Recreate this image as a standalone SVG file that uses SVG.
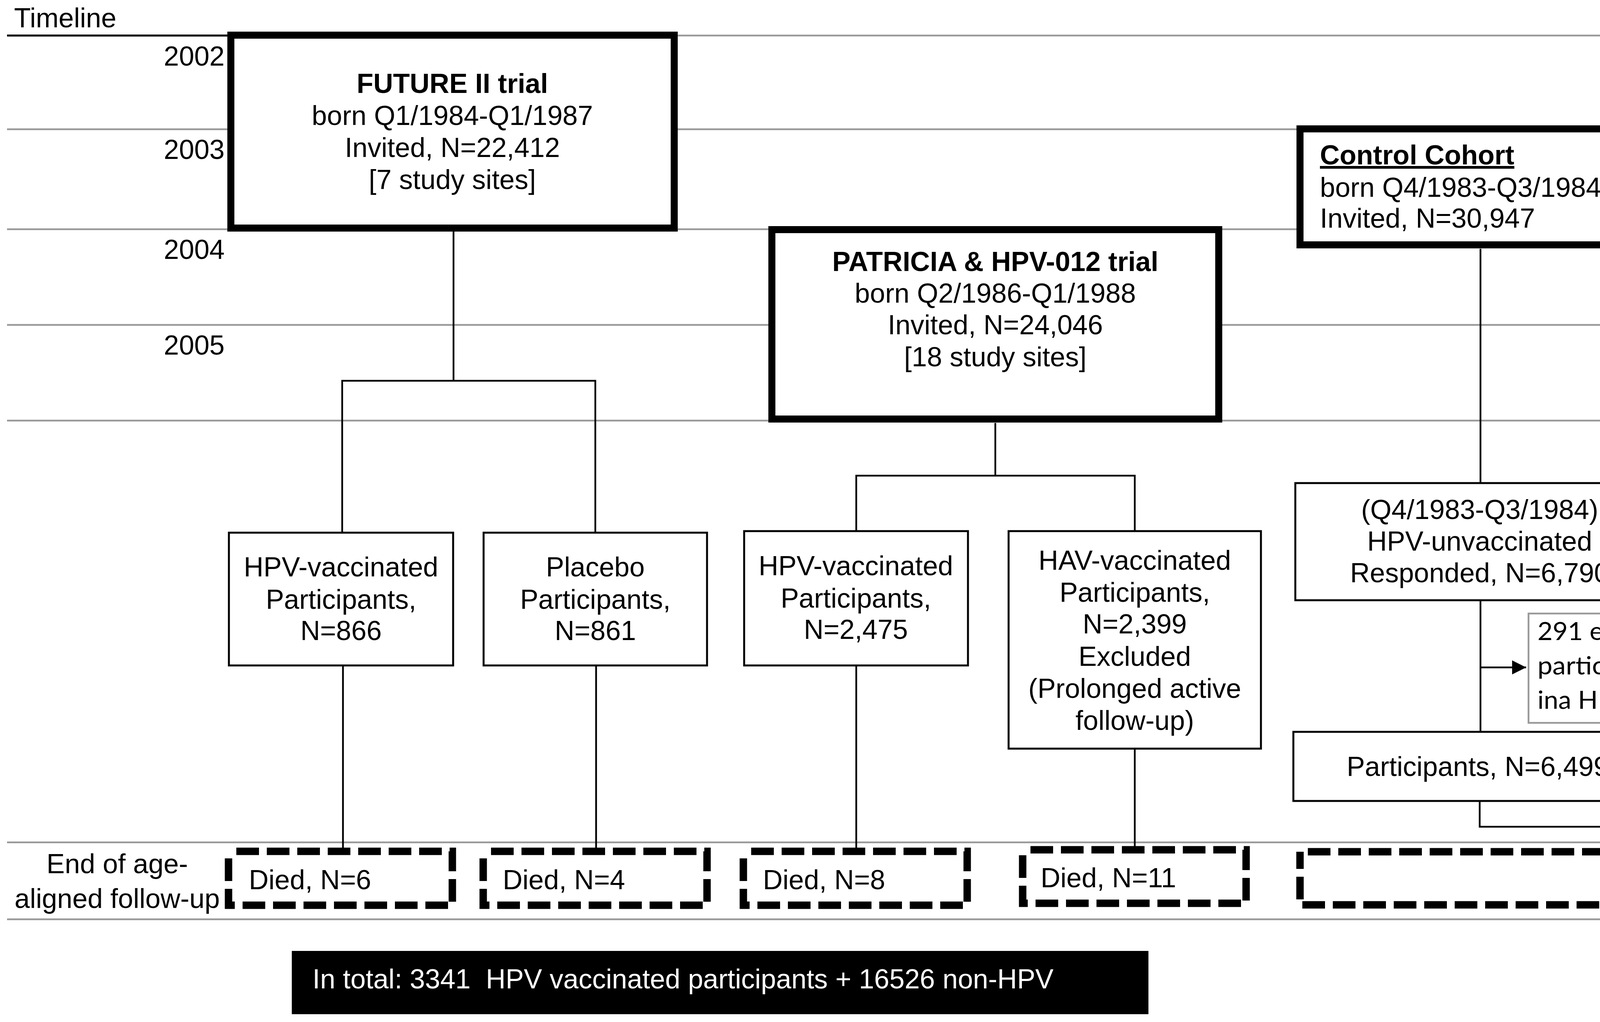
<svg xmlns="http://www.w3.org/2000/svg" width="5846" height="2617" viewBox="0 0 5846 2617">
<defs>
<style>
text{font-family:"Liberation Sans",Arial,sans-serif;font-size:70px;fill:#000}
.c{text-anchor:middle}
.r{text-anchor:end}
.b{font-weight:bold}
.u{text-decoration:underline}
.ex{font-family:Lato,"Liberation Sans",sans-serif;font-size:64px}
.grid{stroke:#999;stroke-width:4.5;fill:none}
.thick{fill:#fff;stroke:#000;stroke-width:18}
.thin{fill:#fff;stroke:#000;stroke-width:5}
.gbox{fill:#fff;stroke:#999;stroke-width:4.5}
.dash{fill:#fff;stroke:#000;stroke-width:19;stroke-dasharray:58 20;stroke-dashoffset:58}
.conn{fill:none;stroke:#000;stroke-width:4.5}
</style>
<marker id="arr" markerUnits="userSpaceOnUse" markerWidth="36" markerHeight="36" refX="36" refY="18" orient="auto">
<path d="M0,0L36,18L0,36z" fill="#000"/>
</marker>
</defs>
<rect width="5846" height="2617" fill="#fff"/>
<g id="timeline">
<path class="grid" d="M18,91H5826M18,331H5826M18,587H5826M18,832H5826M18,1077H5826M18,2157H5826M18,2354H5826"/>
<path d="M18,91H591" stroke="#000" stroke-width="5"/>
<text x="36" y="70">Timeline</text>
<text class="r" x="575" y="168">2002</text>
<text class="r" x="575" y="407">2003</text>
<text class="r" x="575" y="663">2004</text>
<text class="r" x="575" y="908">2005</text>
<text class="c" x="300" y="2236">End of age-</text>
<text class="c" x="300" y="2325">aligned follow-up</text>
</g>
<g id="connectors">
<path class="conn" d="M1161,593V975M876,1364V975H1524V1364"/>
<path class="conn" d="M2548,1083V1218M2192,1360V1218H2905V1360"/>
<path class="conn" d="M3790,637V1237M4795,1142V1237"/>
<path class="conn" d="M3790,1537V1874M4793,1537V1874"/>
<path class="conn" d="M3790,1709H3907" marker-end="url(#arr)"/>
<path class="conn" d="M4793,1709H4904" marker-end="url(#arr)"/>
<path class="conn" d="M3788,2051V2117H4795V2051M4295,2117V2181"/>
<path class="conn" d="M878,1704V2180M1526,1704V2180M2192,1704V2180M2905,1917V2176"/>
</g>
<g id="future">
<rect class="thick" x="591" y="90" width="1135" height="494"/>
<text class="c b" x="1158" y="238">FUTURE II trial</text>
<text class="c" x="1158" y="320">born Q1/1984-Q1/1987</text>
<text class="c" x="1158" y="402">Invited, N=22,412</text>
<text class="c" x="1158" y="484">[7 study sites]</text>
</g>
<g id="patricia">
<rect class="thick" x="1976" y="588" width="1144" height="485"/>
<text class="c b" x="2548" y="694">PATRICIA &amp; HPV-012 trial</text>
<text class="c" x="2548" y="775">born Q2/1986-Q1/1988</text>
<text class="c" x="2548" y="856">Invited, N=24,046</text>
<text class="c" x="2548" y="938">[18 study sites]</text>
</g>
<g id="control1">
<rect class="thick" x="3328" y="330" width="905" height="297"/>
<text class="b u" x="3379" y="421">Control Cohort</text>
<text x="3379" y="504">born Q4/1983-Q3/1984</text>
<text x="3379" y="583">Invited, N=30,947</text>
</g>
<g id="control2">
<rect class="thick" x="4337" y="824" width="906" height="308"/>
<text class="b u" x="4389" y="915">Control Cohort</text>
<text x="4389" y="998">born Q4/1984-Q3/1986</text>
<text x="4389" y="1077">Invited, N=58,996</text>
</g>
<g id="hpv1">
<rect class="thin" x="586" y="1364" width="574" height="340"/>
<text class="c" x="873" y="1476">HPV-vaccinated</text>
<text class="c" x="873" y="1559">Participants,</text>
<text class="c" x="873" y="1639">N=866</text>
</g>
<g id="placebo">
<rect class="thin" x="1238" y="1364" width="572" height="340"/>
<text class="c" x="1524" y="1476">Placebo</text>
<text class="c" x="1524" y="1559">Participants,</text>
<text class="c" x="1524" y="1639">N=861</text>
</g>
<g id="hpv2">
<rect class="thin" x="1905" y="1360" width="573" height="344"/>
<text class="c" x="2191" y="1473">HPV-vaccinated</text>
<text class="c" x="2191" y="1556">Participants,</text>
<text class="c" x="2191" y="1636">N=2,475</text>
</g>
<g id="hav">
<rect class="thin" x="2582" y="1360" width="646" height="557"/>
<text class="c" x="2905" y="1459">HAV-vaccinated</text>
<text class="c" x="2905" y="1541">Participants,</text>
<text class="c" x="2905" y="1622">N=2,399</text>
<text class="c" x="2905" y="1705">Excluded</text>
<text class="c" x="2905" y="1787">(Prolonged active</text>
<text class="c" x="2905" y="1869">follow-up)</text>
</g>
<g id="responded1">
<rect class="thin" x="3316" y="1237" width="944" height="300"/>
<text class="c" x="3788" y="1329">(Q4/1983-Q3/1984)</text>
<text class="c" x="3788" y="1410">HPV-unvaccinated</text>
<text class="c" x="3788" y="1491">Responded, N=6,790</text>
</g>
<g id="responded2">
<rect class="thin" x="4321" y="1237" width="944" height="300"/>
<text class="c" x="4793" y="1329">(Q4/1984-Q3/1986)</text>
<text class="c" x="4793" y="1410">HPV-unvaccinated</text>
<text class="c" x="4793" y="1491">Responded, N=10,220</text>
</g>
<g id="excluded1">
<rect class="gbox" x="3913" y="1571" width="798" height="280"/>
<text class="ex" x="3936" y="1639" textLength="753" lengthAdjust="spacingAndGlyphs">291 excluded (declined to</text>
<text class="ex" x="3936" y="1727" textLength="693" lengthAdjust="spacingAndGlyphs">participate/particpated</text>
<text class="ex" x="3936" y="1815" textLength="733" lengthAdjust="spacingAndGlyphs">ina HPV vaccination trial)</text>
</g>
<g id="excluded2">
<rect class="gbox" x="4909" y="1571" width="803" height="280"/>
<text class="ex" x="4930" y="1639" textLength="721" lengthAdjust="spacingAndGlyphs">1054 excluded (declined</text>
<text class="ex" x="4930" y="1727" textLength="762" lengthAdjust="spacingAndGlyphs">to participate/particpated</text>
<text class="ex" x="4930" y="1815" textLength="737" lengthAdjust="spacingAndGlyphs">ina HPV vaccination trial)</text>
</g>
<g id="participants1">
<rect class="thin" x="3311" y="1874" width="944" height="177"/>
<text class="c" x="3783" y="1987">Participants, N=6,499</text>
</g>
<g id="participants2">
<rect class="thin" x="4321" y="1874" width="944" height="177"/>
<text class="c" x="4793" y="1987">Participants, N=9,166</text>
</g>
<g id="died1">
<rect class="dash" x="585" y="2180" width="573" height="138"/>
<text x="637" y="2277">Died, N=6</text>
</g>
<g id="died2">
<rect class="dash" x="1237" y="2180" width="573" height="138"/>
<text x="1287" y="2277">Died, N=4</text>
</g>
<g id="died3">
<rect class="dash" x="1903" y="2180" width="573" height="138"/>
<text x="1953" y="2277">Died, N=8</text>
</g>
<g id="died4">
<rect class="dash" x="2618" y="2176" width="572" height="137"/>
<text x="2664" y="2272">Died, N=11</text>
</g>
<g id="died73">
<rect class="dash" x="3328" y="2181" width="1924" height="136"/>
<text class="c" x="4290" y="2277">Died, N=73</text>
</g>
<g id="total">
<rect x="747" y="2435" width="2193" height="162" fill="#000"/>
<text x="800" y="2531" fill="#fff" style="fill:#fff" xml:space="preserve">In total: 3341  HPV vaccinated participants + 16526 non-HPV</text>
</g>
</svg>
